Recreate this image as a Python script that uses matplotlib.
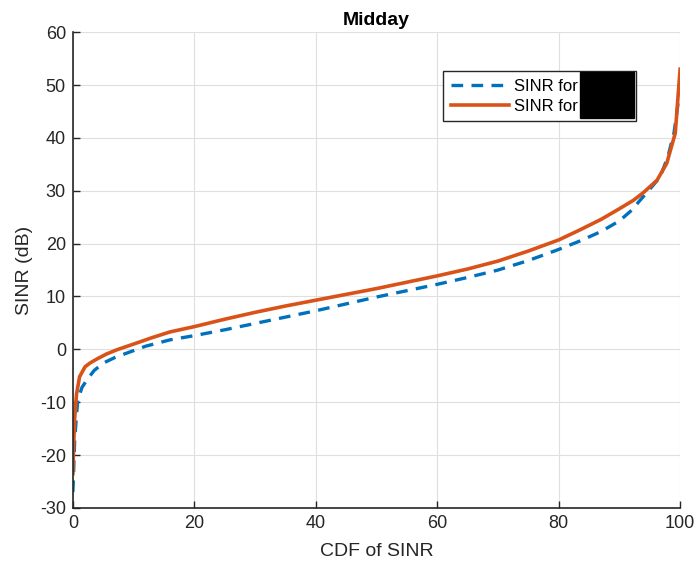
import matplotlib
matplotlib.use("Agg")
import matplotlib.pyplot as plt
from matplotlib.patches import Rectangle

plt.rcParams['font.family'] = ['Liberation Sans', 'DejaVu Sans']
plt.rcParams['axes.unicode_minus'] = False

# Blue dashed series (SINR for ...)
cdf_a = [0, 0.1, 0.3, 0.8, 1.5, 2.3, 3.5, 5, 7, 8.9, 12, 16, 20, 25, 30, 35, 40, 45, 50, 55, 60, 65, 70, 75, 80, 83.5, 87, 90, 92, 93.4, 95, 96.7, 98, 99, 99.6, 100]
sinr_a = [-27, -24, -17, -9.6, -7.2, -5.8, -4.0, -2.6, -1.5, -0.7, 0.6, 1.8, 2.6, 3.7, 4.9, 6.1, 7.3, 8.6, 9.9, 11.1, 12.3, 13.6, 15.0, 16.8, 18.9, 20.5, 22.3, 24.3, 26.3, 28.2, 30.3, 32.6, 36.5, 41, 46, 52]

# Orange solid series (SINR for ...)
cdf_b = [0, 0.1, 0.3, 0.6, 1.1, 2, 2.8, 4, 5.5, 7.2, 10, 13, 16, 20, 25, 30, 35, 40, 45, 50, 55, 60, 65, 70, 75, 80, 83.5, 87, 90, 92.3, 94, 96.2, 97.8, 99.2, 99.6, 100]
sinr_b = [-23.5, -19, -13, -8.5, -5.2, -3.3, -2.6, -1.8, -0.9, -0.1, 1.0, 2.2, 3.3, 4.3, 5.7, 7.0, 8.2, 9.3, 10.4, 11.5, 12.7, 13.9, 15.2, 16.7, 18.6, 20.7, 22.6, 24.6, 26.6, 28.2, 29.7, 32, 35.2, 40.9, 47, 53]

xticks = [0, 20, 40, 60, 80, 100]
yticks = [-30, -20, -10, 0, 10, 20, 30, 40, 50, 60]
legend_labels = ['SINR for' + ' ' * 11, 'SINR for' + ' ' * 11]

fig = plt.figure(figsize=(6.94, 5.65), dpi=100)
ax = fig.add_axes([0.105, 0.101, 0.875, 0.842])

ax.plot(cdf_a, sinr_a, color='#0072BD', linestyle=(0, (3.5, 2.5)), linewidth=2.4, label=legend_labels[0])
ax.plot(cdf_b, sinr_b, color='#D95319', linestyle='-', linewidth=2.6, label=legend_labels[1])

ax.set_xlim(0, 100)
ax.set_ylim(-30, 60)
ax.set_xticks(xticks)
ax.set_yticks(yticks)
ax.grid(True, color='#DFDFDF', linewidth=0.8)
ax.set_axisbelow(True)
for s in ['top', 'right']:
    ax.spines[s].set_visible(False)
for s in ['left', 'bottom']:
    ax.spines[s].set_linewidth(1.2)
    ax.spines[s].set_color('#262626')
ax.tick_params(direction='in', length=5, width=1.0, labelsize=13, colors='#262626', pad=5)
ax.set_xlabel('CDF of SINR', fontsize=14, color='#262626', labelpad=8)
ax.set_ylabel('SINR (dB)', fontsize=14, color='#262626', labelpad=5)
ax.set_title('Midday', fontsize=14, fontweight='bold', pad=5)

leg = ax.legend(loc='upper right', bbox_to_anchor=(0.9275, 0.918), fontsize=12,
                frameon=True, fancybox=False, edgecolor='#262626', handlelength=3.5,
                borderpad=0.45, labelspacing=0.3, handletextpad=0.3, borderaxespad=0)
leg.get_frame().set_linewidth(1.0)
leg.get_frame().set_alpha(1.0)
# redaction box covering the rest of the legend labels
fig.patches.append(Rectangle((580/694, 1-118/565), 54/694, 46/565, transform=fig.transFigure,
                             facecolor='black', edgecolor='black', zorder=10))

fig.savefig('out.png', dpi=100)
